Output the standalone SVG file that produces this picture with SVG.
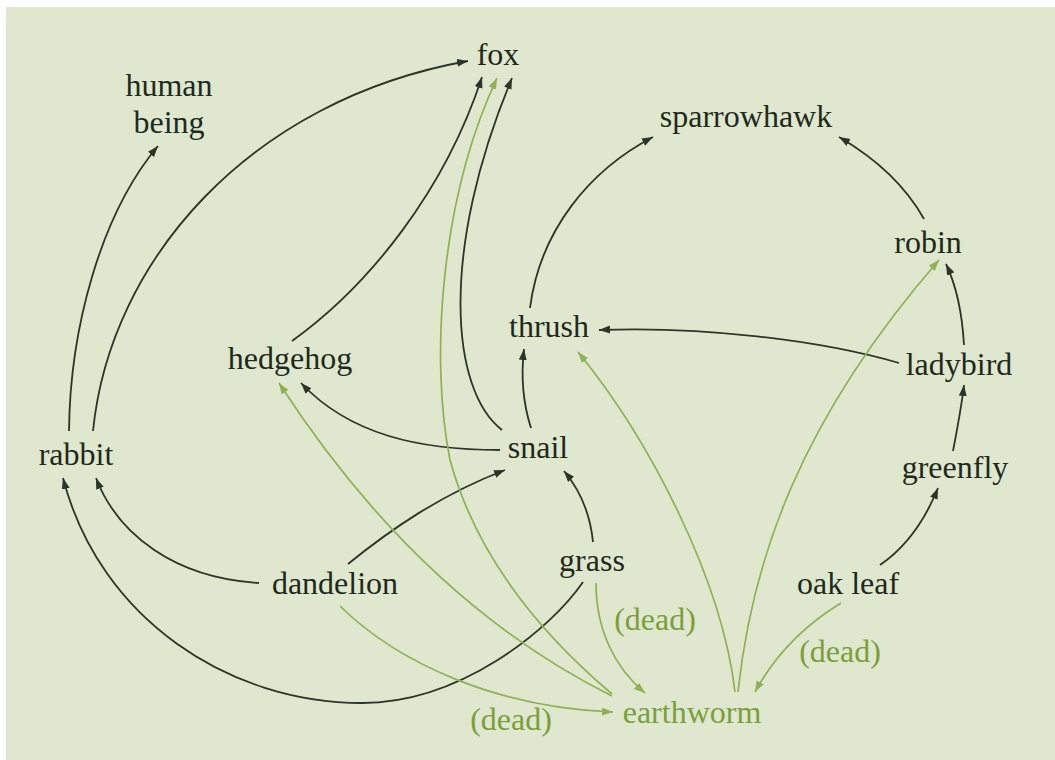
<svg xmlns="http://www.w3.org/2000/svg" width="1055" height="760" viewBox="0 0 1055 760">
<style>
.t{font-family:"Liberation Serif","Times New Roman",serif;font-size:32px;fill:#1f2a1c;text-anchor:middle}
.g{fill:#7b9f3c}
.d{fill:none;stroke:#2b3528;stroke-width:1.8}
.e{fill:none;stroke:#8fb053;stroke-width:1.7}
</style>
<defs>
<marker id="ad" markerUnits="userSpaceOnUse" markerWidth="12" markerHeight="9" refX="11" refY="4" orient="auto"><path d="M0,0 L11,4 L0,8 z" fill="#2b3528"/></marker>
<marker id="ag" markerUnits="userSpaceOnUse" markerWidth="12" markerHeight="9" refX="11" refY="4" orient="auto"><path d="M0,0 L11,4 L0,8 z" fill="#8fb053"/></marker>
</defs>
<rect x="0" y="0" width="1055" height="760" fill="#ffffff"/>
<rect x="6" y="7" width="1049" height="753" fill="#dfe7cf"/>
<g id="connectors">
<path class="d" marker-end="url(#ad)" d="M69,431 C70,330 100,215 158,146"/>
<path class="d" marker-end="url(#ad)" d="M93,431 C110,260 250,100 468,61"/>
<path class="d" marker-end="url(#ad)" d="M292,341 C370,285 445,190 482,77"/>
<path class="d" marker-end="url(#ad)" d="M502,430 C450,390 440,250 512,78"/>
<path class="d" marker-end="url(#ad)" d="M500,450 C420,450 350,435 301,383"/>
<path class="d" marker-end="url(#ad)" d="M531,428 C522,400 521,375 524,349"/>
<path class="d" marker-end="url(#ad)" d="M530,308 C540,230 590,170 653,137"/>
<path class="d" marker-end="url(#ad)" d="M924,219 C905,185 875,158 839,137"/>
<path class="d" marker-end="url(#ad)" d="M899,363 C820,340 700,326 599,330"/>
<path class="d" marker-end="url(#ad)" d="M964,345 C962,310 956,285 946,264"/>
<path class="d" marker-end="url(#ad)" d="M953,451 C957,430 961,410 964,385"/>
<path class="d" marker-end="url(#ad)" d="M880,565 C905,548 925,520 938,488"/>
<path class="d" marker-end="url(#ad)" d="M593,542 C590,512 580,490 564,471"/>
<path class="d" marker-end="url(#ad)" d="M348,564 C390,530 440,495 505,470"/>
<path class="d" marker-end="url(#ad)" d="M259,583 C175,578 118,535 96,478"/>
<path class="d" marker-end="url(#ad)" d="M583,582 C550,630 460,703 362,703 C230,703 100,620 63,478"/>
<path class="e" marker-end="url(#ag)" d="M612,694 C560,650 480,570 450,460 C430,360 440,200 497,78"/>
<path class="e" marker-end="url(#ag)" d="M612,696 C530,655 400,570 279,383"/>
<path class="e" marker-end="url(#ag)" d="M340,606 C400,665 500,708 613,712"/>
<path class="e" marker-end="url(#ag)" d="M596,583 C596,630 615,668 645,693"/>
<path class="e" marker-end="url(#ag)" d="M735,692 C722,580 650,440 578,352"/>
<path class="e" marker-end="url(#ag)" d="M738,692 C752,560 800,420 939,260"/>
<path class="e" marker-end="url(#ag)" d="M841,603 C805,625 775,655 755,692"/>
</g>
<g id="fox"><text class="t" x="498" y="65">fox</text></g>
<g id="human-being"><text class="t" x="169" y="96">human</text><text class="t" x="169" y="133">being</text></g>
<g id="sparrowhawk"><text class="t" x="746" y="127">sparrowhawk</text></g>
<g id="robin"><text class="t" x="928" y="253">robin</text></g>
<g id="thrush"><text class="t" x="549" y="337">thrush</text></g>
<g id="ladybird"><text class="t" x="959" y="375">ladybird</text></g>
<g id="hedgehog"><text class="t" x="290" y="369">hedgehog</text></g>
<g id="snail"><text class="t" x="538" y="458">snail</text></g>
<g id="rabbit"><text class="t" x="76" y="465">rabbit</text></g>
<g id="greenfly"><text class="t" x="955" y="478">greenfly</text></g>
<g id="grass"><text class="t" x="592" y="571">grass</text></g>
<g id="dandelion"><text class="t" x="335" y="594">dandelion</text></g>
<g id="oak-leaf"><text class="t" x="848" y="594">oak leaf</text></g>
<g id="earthworm"><text class="t g" x="692" y="723">earthworm</text></g>
<g id="labels">
<text class="t g" x="655" y="630">(dead)</text>
<text class="t g" x="840" y="662">(dead)</text>
<text class="t g" x="511" y="730">(dead)</text>
</g>
</svg>
